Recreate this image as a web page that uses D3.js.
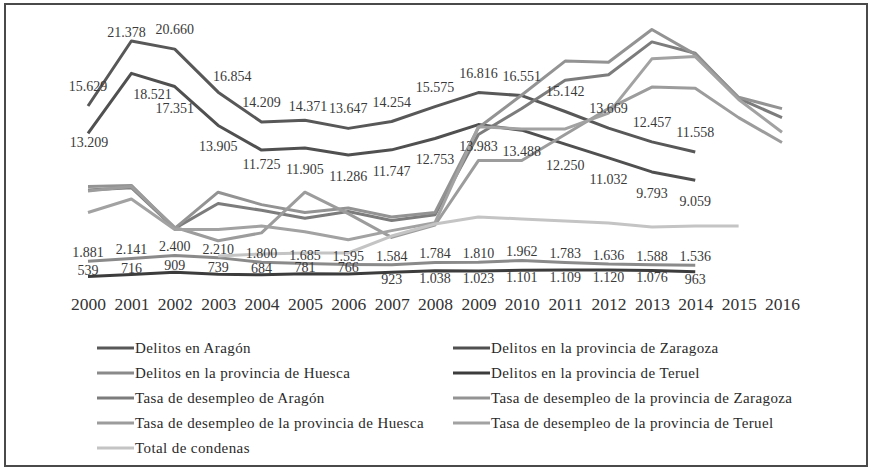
<!DOCTYPE html>
<html>
<head>
<meta charset="utf-8">
<script src="https://cdn.jsdelivr.net/npm/d3@7"></script>
<style>
body { margin: 0; background: #fff; }
text { font-family: "Liberation Serif", "Times New Roman", serif; }
</style>
</head>
<body>
<div id="chart"></div>
<script>
// años del eje
var years = [2000, 2001, 2002, 2003, 2004, 2005, 2006, 2007, 2008, 2009, 2010, 2011, 2012, 2013, 2014, 2015, 2016];

// delitos (numero), 2000-2014
var delitosAragon   = [15629, 21378, 20660, 16854, 14209, 14371, 13647, 14254, 15575, 16816, 16551, 15142, 13669, 12457, 11558];
var delitosZaragoza = [13209, 18521, 17351, 13905, 11725, 11905, 11286, 11747, 12753, 13983, 13488, 12250, 11032, 9793, 9059];
var delitosHuesca   = [1881, 2141, 2400, 2210, 1800, 1685, 1595, 1584, 1784, 1810, 1962, 1783, 1636, 1588, 1536];
var delitosTeruel   = [539, 716, 909, 739, 684, 781, 766, 923, 1038, 1023, 1101, 1109, 1120, 1076, 963];

// tasa de desempleo (%), 2000-2016, eje secundario oculto
var tasaAragon   = [8.2, 8.4, 4.8, 7.0, 6.4, 5.7, 6.3, 5.5, 6.0, 13.1, 15.4, 17.9, 18.4, 21.3, 20.3, 16.3, 14.6];
var tasaZaragoza = [8.5, 8.6, 4.8, 8.0, 6.9, 6.2, 6.6, 5.8, 6.2, 13.7, 16.6, 19.6, 19.5, 22.4, 20.2, 16.4, 15.4];
var tasaHuesca   = [8.1, 8.5, 4.9, 3.7, 4.4, 8.0, 6.1, 4.0, 5.1, 10.8, 10.8, 13.1, 15.4, 17.3, 17.2, 14.6, 12.4];
var tasaTeruel   = [6.2, 7.4, 4.7, 4.7, 5.0, 4.5, 3.8, 4.6, 5.3, 13.8, 13.6, 13.6, 15.0, 19.8, 20.0, 16.2, 13.3];

// total de condenas, 2003-2015
var condenasYears = [2003, 2004, 2005, 2006, 2007, 2008, 2009, 2010, 2011, 2012, 2013, 2014, 2015];
var totalCondenas = [2350, 2530, 2620, 2620, 4120, 5190, 5810, 5630, 5450, 5270, 4920, 5010, 5010];

var legendNames = [
	"Delitos en Aragón",
	"Delitos en la provincia de Zaragoza",
	"Delitos en la provincia de Huesca",
	"Delitos en la provincia de Teruel",
	"Tasa de desempleo de Aragón",
	"Tasa de desempleo de la provincia de Zaragoza",
	"Tasa de desempleo de la provincia de Huesca",
	"Tasa de desempleo de la provincia de Teruel",
	"Total de condenas"
];

var colors = ['#585858', '#505050', '#8a8a8a', '#3c3c3c', '#7c7c7c', '#939393', '#9c9c9c', '#a2a2a2', '#c4c4c4'];

// etiquetas movidas a mano en el original  ("serie_año": [dx, dy])
var labelNudge = {
	"0_2001": [-5, 11],
	"0_2003": [14, 4],
	"0_2005": [3, 6],
	"1_2000": [1, -12],
	"1_2001": [21, 0],
	"1_2004": [0, -7]
};

var W = 872, H = 472;

var svg = d3.select("#chart")
	.append("svg")
	.attr("width", W)
	.attr("height", H);

svg.append("rect")
	.attr("x", 5).attr("y", 4)
	.attr("width", 862).attr("height", 462)
	.style("fill", "#fff")
	.style("stroke", "#4a4a4a")
	.style("stroke-width", 2);

var x = d3.scalePoint()
	.domain(years)
	.range([88, 782]);

var y = d3.scaleLinear()
	.domain([0, 22000])
	.range([282.6, 34]);

// mismo recorrido en pixeles, en porcentaje
var y2 = d3.scaleLinear()
	.domain([0, 22])
	.range([282.6, 34]);

var es = d3.formatLocale({decimal: ",", thousands: ".", grouping: [3], currency: ["", "€"]});
var fmt = es.format(",d");

var pairs = function(xs, vs){
	return vs.map(function(v, i){ return [xs[i], v]; });
};

var series = [
	{data: pairs(years, delitosAragon), scale: y},
	{data: pairs(years, delitosZaragoza), scale: y},
	{data: pairs(years, delitosHuesca), scale: y},
	{data: pairs(years, delitosTeruel), scale: y},
	{data: pairs(years, tasaAragon), scale: y2},
	{data: pairs(years, tasaZaragoza), scale: y2},
	{data: pairs(years, tasaHuesca), scale: y2},
	{data: pairs(years, tasaTeruel), scale: y2},
	{data: pairs(condenasYears, totalCondenas), scale: y}
];

var plot = svg.append("g");

series.forEach(function(s, k){
	var line = d3.line()
		.x(function(d){ return x(d[0]); })
		.y(function(d){ return s.scale(d[1]); });
	plot.append("path")
		.datum(s.data)
		.attr("d", line)
		.style("fill", "none")
		.style("stroke", colors[k])
		.style("stroke-width", 3)
		.style("stroke-linejoin", "round");
});

// etiquetas de datos
var labelGroup = svg.append("g")
	.style("font-size", "14px")
	.style("fill", "#3a3a3a")
	.attr("text-anchor", "middle");

var addLabels = function(k, dyFn){
	labelGroup.selectAll(null)
		.data(series[k].data)
		.enter()
		.append("text")
		.attr("x", function(d){
			var n = labelNudge[k + "_" + d[0]];
			return x(d[0]) + (n ? n[0] : 0);
		})
		.attr("y", function(d, i){
			var n = labelNudge[k + "_" + d[0]];
			return y(d[1]) + dyFn(d, i) + (n ? n[1] : 0);
		})
		.text(function(d){ return fmt(d[1]); });
};

addLabels(0, function(){ return -15; });
addLabels(1, function(){ return 26; });
addLabels(2, function(){ return -4; });
addLabels(3, function(d){ return d[0] < 2007 ? -2 : 12; });

// eje x (solo etiquetas)
var xAxis = svg.append("g")
	.attr("transform", "translate(0,292)")
	.call(d3.axisBottom(x).tickSize(0).tickPadding(0));
xAxis.select(".domain").remove();
xAxis.selectAll("text")
	.attr("dy", "0")
	.attr("y", 18)
	.style("font-family", "'Liberation Serif', serif")
	.style("font-size", "17.5px")
	.style("fill", "#333");

// leyenda
var legend = svg.append("g")
	.selectAll("g")
	.data(legendNames)
	.enter()
	.append("g")
	.attr("transform", function(d, i){
		var col = i % 2, row = Math.floor(i / 2);
		return "translate(" + (col == 0 ? 97 : 453) + "," + (348 + row * 25) + ")";
	});

legend.append("line")
	.attr("x1", 0).attr("x2", 37)
	.attr("y1", 0).attr("y2", 0)
	.style("stroke", function(d, i){ return colors[i]; })
	.style("stroke-width", 3);

legend.append("text")
	.attr("x", 38)
	.attr("y", 5)
	.style("font-size", "15px")
	.style("letter-spacing", "0.4px")
	.style("fill", "#2a2a2a")
	.text(function(d){ return d; });
</script>
</body>
</html>
